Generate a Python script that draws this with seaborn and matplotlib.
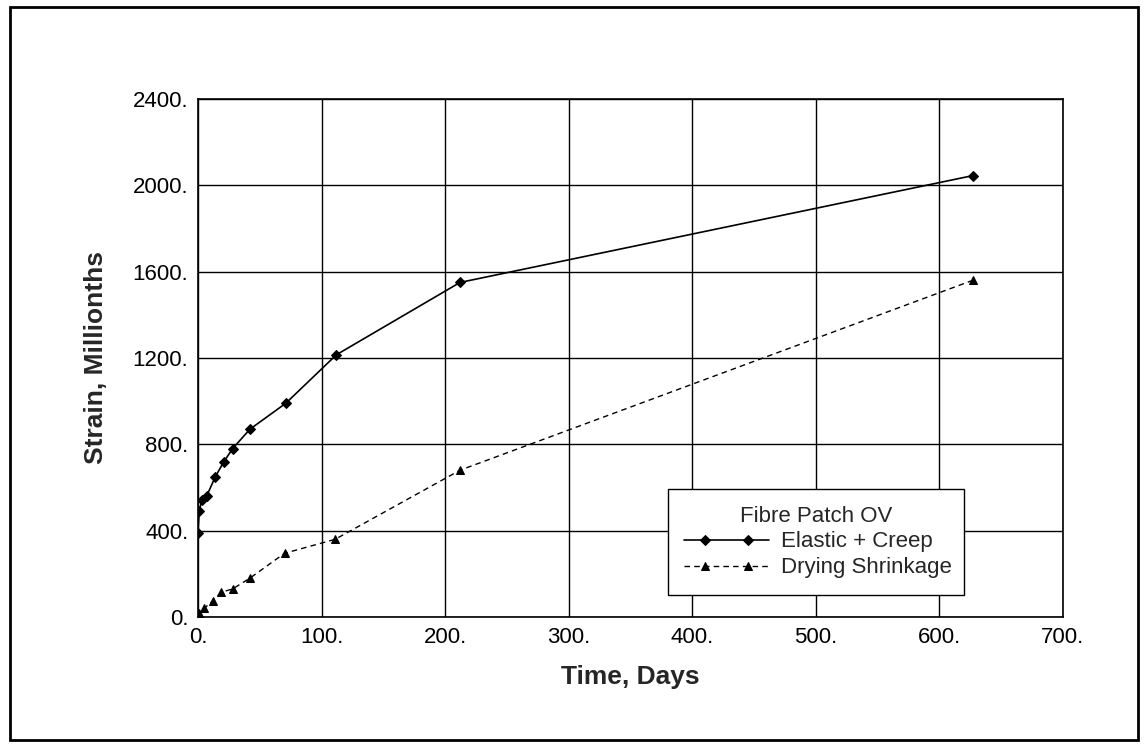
import matplotlib
matplotlib.use('Agg')
import matplotlib.pyplot as plt
import matplotlib.ticker as mticker
from matplotlib.patches import Rectangle
from matplotlib.lines import Line2D
from matplotlib.legend_handler import HandlerLine2D
import numpy as np
import seaborn as sns
import pandas as pd

# ---- data ----
creep_days = [0, 1, 3, 7, 14, 21, 28, 42, 71, 112, 212, 627]
creep_strain = [390, 490, 540, 560, 650, 720, 780, 870, 990, 1215, 1550, 2045]

shrink_days = [0, 1, 5, 12, 19, 28, 42, 70, 111, 212, 627]
shrink_strain = [0, 17, 40, 75, 115, 130, 180, 295, 360, 680, 1560]

x_ticks = [0, 100, 200, 300, 400, 500, 600, 700]
y_ticks = [0, 400, 800, 1200, 1600, 2000, 2400]


class InsetMarkerHandler(HandlerLine2D):
    # full-length line, two markers set in from the ends
    def get_xdata(self, legend, xdescent, ydescent, width, height, fontsize):
        pad = self._marker_pad * fontsize
        xdata = np.array([-xdescent, -xdescent + pad, width - pad, width])
        return xdata, xdata

    def create_artists(self, *args, **kwargs):
        arts = super().create_artists(*args, **kwargs)
        for a in arts:
            if isinstance(a, Line2D):
                a.set_markevery([1, 2])
        return arts


sns.set_style('white')
plt.rcParams['font.family'] = ['Liberation Sans', 'DejaVu Sans']

fig = plt.figure(figsize=(11.44, 7.45), dpi=100)
ax = fig.add_axes([198 / 1144, 1 - 617 / 745, 865 / 1144, 518 / 745])

creep = pd.DataFrame({'days': creep_days, 'strain': creep_strain})
shrink = pd.DataFrame({'days': shrink_days, 'strain': shrink_strain})

sns.lineplot(data=creep, x='days', y='strain', ax=ax, color='black',
             linewidth=1.2, marker='D', markersize=5, markeredgecolor='black',
             label='Elastic + Creep')
sns.lineplot(data=shrink, x='days', y='strain', ax=ax, color='black',
             linewidth=1.0, marker='^', markersize=6, markeredgecolor='black',
             label='Drying Shrinkage')
ax.lines[1].set_dashes([4, 3])

ax.set_xlim(0, 700)
ax.set_ylim(0, 2400)
ax.set_xticks(x_ticks)
ax.set_yticks(y_ticks)
fmt = mticker.FuncFormatter(lambda v, p: f'{v:.0f}.')
ax.xaxis.set_major_formatter(fmt)
ax.yaxis.set_major_formatter(fmt)
ax.tick_params(axis='both', length=0, labelsize=16, pad=7, colors='black')
ax.grid(True, color='black', linewidth=1.0)
for s in ax.spines.values():
    s.set_color('black')
    s.set_linewidth(1.2)

ax.set_xlabel('Time, Days', fontsize=19, fontweight='bold')
ax.set_ylabel('Strain, Millionths', fontsize=19, fontweight='bold')
ax.xaxis.set_label_coords(0.5, -0.092)
ax.yaxis.set_label_coords(-0.104, 0.5)

handles, labels = ax.get_legend_handles_labels()
leg = ax.legend(handles, labels, title='Fibre Patch OV', loc='lower left',
                bbox_to_anchor=(0.543, 0.0425, 0.343, 0.2085), mode='expand',
                fontsize=16, title_fontsize=16, handlelength=3.8, numpoints=2,
                handletextpad=0.55, borderaxespad=0, borderpad=0.75,
                labelspacing=0.22, frameon=True, fancybox=False, framealpha=1,
                handler_map={Line2D: InsetMarkerHandler(marker_pad=0.95)})
leg.get_frame().set_edgecolor('black')
leg.get_frame().set_linewidth(1.0)

# outer border of the figure
fig.patches.append(Rectangle((10 / 1144, 1 - 740 / 745), 1128 / 1144, 733 / 745,
                             transform=fig.transFigure, fill=False,
                             edgecolor='black', linewidth=2))

fig.savefig('out.png', dpi=100)
